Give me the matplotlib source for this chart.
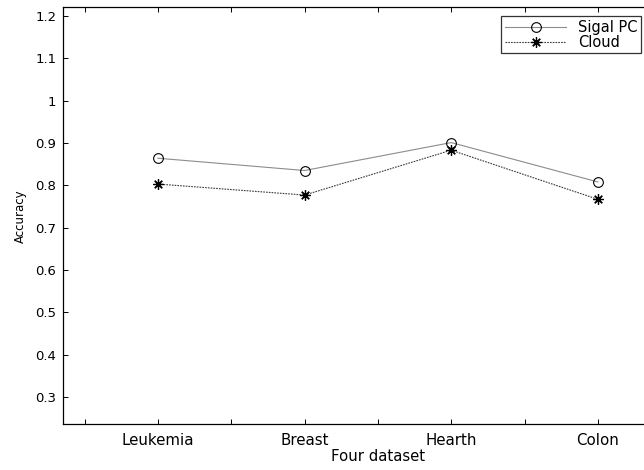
import matplotlib
matplotlib.use("Agg")
import matplotlib.pyplot as plt

categories = ["Leukemia", "Breast", "Hearth", "Colon"]
sigal_pc = [0.864, 0.835, 0.901, 0.808]
cloud = [0.803, 0.777, 0.883, 0.767]
y_ticks = [0.3, 0.4, 0.5, 0.6, 0.7, 0.8, 0.9, 1.0, 1.1, 1.2]
y_tick_labels = ["0.3", "0.4", "0.5", "0.6", "0.7", "0.8", "0.9", "1", "1.1", "1.2"]

plt.rcParams['font.family'] = ['DejaVu Sans']

fig = plt.figure(figsize=(6.44, 4.70), dpi=100)
W, H = 644, 470
left_px, bottom_px, top_px = 63.3, 424.3, 7.3
xlim = (0.354, 4.646)
px_per_unit = 146.6
width_px = (xlim[1] - xlim[0]) * px_per_unit
ax = fig.add_axes([left_px / W, (H - bottom_px) / H, width_px / W, (bottom_px - top_px) / H])

x = list(range(1, len(categories) + 1))
ax.plot(x, sigal_pc, color='#8c8c8c', lw=0.8, marker='o', ms=7,
        mfc='none', mec='black', mew=0.8, label='Sigal PC')
ax.plot(x, cloud, color='#3a3a3a', lw=0.8, ls=(0, (1.5, 1)), marker=(8, 2, 0), ms=7.5,
        mfc='black', mec='black', mew=0.9, label='Cloud')

ax.set_xlim(*xlim)
ax.set_ylim(0.2354, 1.2206)

xt = [0.5 + 0.5 * i for i in range(8)]
xtl = []
for i in range(8):
    xtl.append(categories[i // 2] if i % 2 == 1 else "")
ax.set_xticks(xt)
ax.set_xticklabels(xtl, fontsize=10.8)
ax.set_yticks(y_ticks)
ax.set_yticklabels(y_tick_labels, fontsize=9.5)

ax.tick_params(direction='in', length=3.5, width=0.7, top=True, right=True, pad=5)
ax.tick_params(axis='x', pad=6)
for s in ax.spines.values():
    s.set_linewidth(0.9)

ax.set_xlabel("Four dataset", fontsize=10.7, labelpad=1)
ax.set_ylabel("Accuracy", fontsize=8.5, labelpad=6)

leg = ax.legend(loc='upper right', bbox_to_anchor=(641 / W, 1 - 16 / H),
                bbox_transform=fig.transFigure, fontsize=10.5, frameon=True,
                fancybox=False, borderaxespad=0, handlelength=4.2,
                labelspacing=0.0, borderpad=0.25, handletextpad=0.8)
leg.get_frame().set_edgecolor('black')
leg.get_frame().set_linewidth(0.9)

fig.savefig("out.png", dpi=100)
